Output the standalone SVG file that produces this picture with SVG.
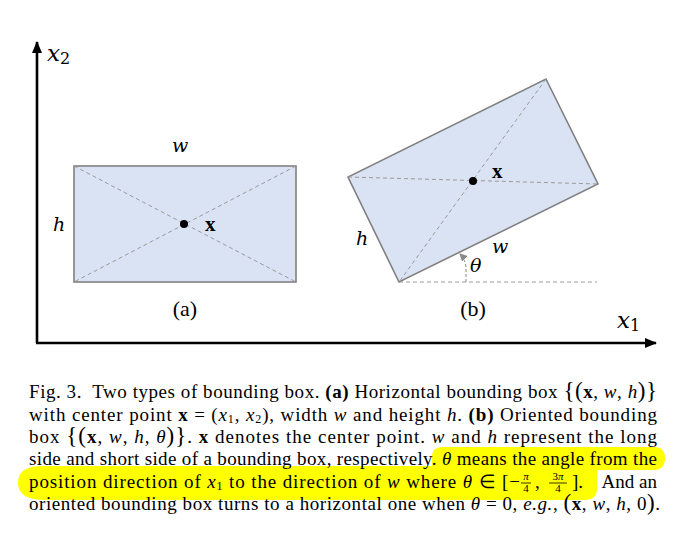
<svg xmlns="http://www.w3.org/2000/svg" width="675" height="534" viewBox="0 0 675 534">
<defs>
<style>
.box{fill:#dae3f3;stroke:#808080;stroke-width:1.6}
.diag{fill:none;stroke:#9a9a9a;stroke-width:1;stroke-dasharray:4 3}
.axis{fill:none;stroke:#000;stroke-width:2.6}
.mi{font-family:"DejaVu Serif",serif;font-style:italic;fill:#000}
.up{font-family:"Liberation Serif",serif;fill:#000}
.bx{font-family:"Liberation Serif",serif;font-weight:bold;fill:#000}
.cap{font-family:"Liberation Serif",serif;font-size:19px;fill:#000}
.i{font-style:italic}
.b{font-weight:bold}
</style>
<marker id="ah" markerWidth="12" markerHeight="10" refX="11" refY="5" orient="auto" markerUnits="userSpaceOnUse">
<path d="M0,0 L12,5 L0,10 Z" fill="#000"/>
</marker>
<marker id="ahg" markerWidth="8" markerHeight="8" refX="7" refY="4" orient="auto" markerUnits="userSpaceOnUse">
<path d="M0,0 L8,4 L0,8 Z" fill="#8a8a8a"/>
</marker>
</defs>
<rect width="675" height="534" fill="#fff"/>

<g id="box-a">
<rect class="box" x="74" y="166" width="222" height="116"/>
<line class="diag" x1="74" y1="166" x2="296" y2="282"/>
<line class="diag" x1="296" y1="166" x2="74" y2="282"/>
<circle cx="184" cy="224" r="4" fill="#000"/>
<text class="bx" x="205" y="231" font-size="21">x</text>
<text class="mi" x="172" y="152" font-size="19">w</text>
<text class="mi" x="53" y="231" font-size="19">h</text>
<text class="up" x="185" y="316" font-size="22" text-anchor="middle">(a)</text>
</g>

<g id="box-b">
<polygon class="box" points="546,79 598,184 399,282 348,177"/>
<line class="diag" x1="348" y1="177" x2="598" y2="184"/>
<line class="diag" x1="546" y1="79" x2="399" y2="282"/>
<line class="diag" x1="399" y1="282" x2="597" y2="282"/>
<circle cx="473" cy="181" r="4" fill="#000"/>
<text class="bx" x="492" y="178" font-size="21">x</text>
<text class="mi" x="356" y="245" font-size="19">h</text>
<text class="mi" x="492" y="253" font-size="19">w</text>
<text class="mi" x="470" y="272" font-size="19">θ</text>
<text class="up" x="473" y="316" font-size="22" text-anchor="middle">(b)</text>
</g>

<g id="connectors">
<line class="axis" x1="37" y1="343" x2="37" y2="42" marker-end="url(#ah)"/>
<line class="axis" x1="36" y1="343" x2="656" y2="343" marker-end="url(#ah)"/>
<path d="M466,282 L466,267 Q465,259 460,254" fill="none" stroke="#8a8a8a" stroke-width="1" stroke-dasharray="3 2" marker-end="url(#ahg)"/>
</g>

<g id="axis-labels">
<text class="mi" x="47" y="61" font-size="23">x<tspan font-size="16" dy="3" font-style="normal">2</tspan></text>
<text class="mi" x="617" y="328" font-size="23">x<tspan font-size="16" dy="3" font-style="normal">1</tspan></text>
</g>

<g id="highlight">
<path d="M42,466 L432,466 L432,457 Q432,447 443,447 L654,447 Q665,447 665,458 Q665,470 654,470 L597,470 L597,488 Q597,500 585,500 L45,500 Q18,500 18,483 Q18,466 42,466 Z" fill="#ffff00"/>
</g>

<g id="caption" class="cap">
<text x="29" y="398" textLength="628" lengthAdjust="spacing" xml:space="preserve">Fig. 3.  Two types of bounding box. <tspan class="b">(a)</tspan> Horizontal bounding box <tspan font-size="23">{(</tspan><tspan class="b">x</tspan>, <tspan class="i">w</tspan>, <tspan class="i">h</tspan><tspan font-size="23">)}</tspan></text>
<text x="29" y="420.5" textLength="628" lengthAdjust="spacing">with center point <tspan class="b">x</tspan> = (<tspan class="i">x</tspan><tspan font-size="12" dy="2">1</tspan><tspan dy="-2">, </tspan><tspan class="i">x</tspan><tspan font-size="12" dy="2">2</tspan><tspan dy="-2">), width </tspan><tspan class="i">w</tspan> and height <tspan class="i">h</tspan>. <tspan class="b">(b)</tspan> Oriented bounding</text>
<text x="29" y="443" textLength="628" lengthAdjust="spacing">box <tspan font-size="23">{(</tspan><tspan class="b">x</tspan>, <tspan class="i">w</tspan>, <tspan class="i">h</tspan>, <tspan class="i">θ</tspan><tspan font-size="23">)}</tspan>. <tspan class="b">x</tspan> denotes the center point. <tspan class="i">w</tspan> and <tspan class="i">h</tspan> represent the long</text>
<text x="29" y="465" textLength="628" lengthAdjust="spacing">side and short side of a bounding box, respectively. <tspan class="i">θ</tspan> means the angle from the</text>
<text x="29" y="487.5" textLength="491" lengthAdjust="spacing">position direction of <tspan class="i">x</tspan><tspan font-size="12" dy="2">1</tspan><tspan dy="-2"> to the direction of </tspan><tspan class="i">w</tspan> where <tspan class="i">θ</tspan> ∈ [−</text>
<text x="526" y="480" font-size="11" text-anchor="middle" class="i">π</text>
<line x1="521" y1="483" x2="531" y2="483" stroke="#000" stroke-width="0.8"/>
<text x="526" y="492" font-size="11" text-anchor="middle">4</text>
<text x="535" y="487.5">,</text>
<text x="558" y="480" font-size="11" text-anchor="middle">3<tspan class="i">π</tspan></text>
<line x1="549" y1="483" x2="567" y2="483" stroke="#000" stroke-width="0.8"/>
<text x="558" y="492" font-size="11" text-anchor="middle">4</text>
<text x="572" y="487.5">].</text>
<text x="657" y="487.5" text-anchor="end">And an</text>
<text x="29" y="510" textLength="631" lengthAdjust="spacing">oriented bounding box turns to a horizontal one when <tspan class="i">θ</tspan> = 0, <tspan class="i">e.g.</tspan>, <tspan font-size="23">(</tspan><tspan class="b">x</tspan>, <tspan class="i">w</tspan>, <tspan class="i">h</tspan>, 0<tspan font-size="23">)</tspan>.</text>
</g>
</svg>
